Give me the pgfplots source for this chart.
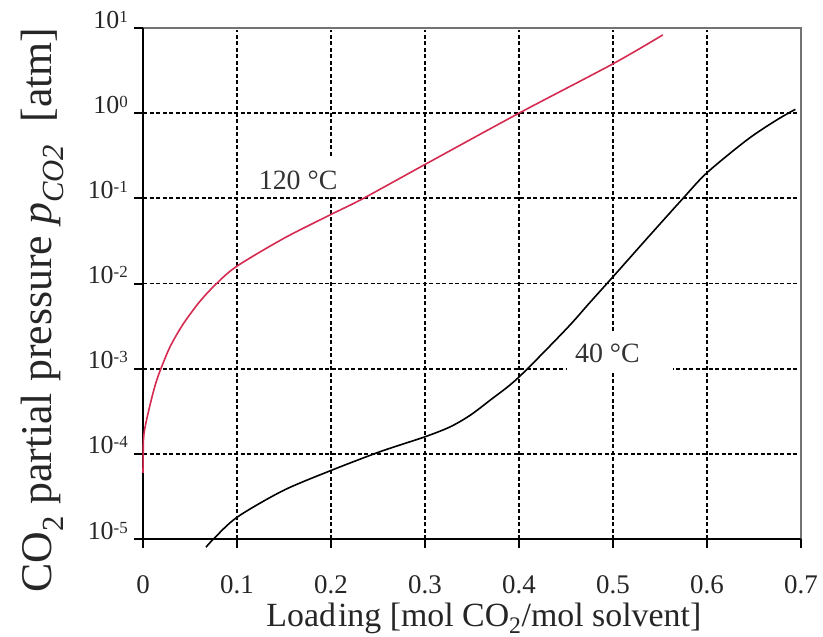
\documentclass[border=0pt]{standalone}
\usepackage{pgfplots}
\pgfplotsset{compat=1.18}
\usepackage{fontspec}
\setmainfont{Liberation Serif}
\definecolor{redline}{RGB}{214,43,80}
\newcommand{\ex}[1]{10\raisebox{6bp}{\fontsize{17}{17}\selectfont #1}}
\begin{document}
\begin{tikzpicture}
\begin{axis}[
  scale only axis, width=658bp, height=511bp,
  xmin=0, xmax=0.7, ymode=log, ymin=1e-5, ymax=10,
  clip=false,
  axis line style={draw=none},
  xtick={0,0.1,0.2,0.3,0.4,0.5,0.6,0.7},
  xticklabels={0,0.1,0.2,0.3,0.4,0.5,0.6,0.7},
  ytick={1e-5,1e-4,1e-3,1e-2,1e-1,1,10},
  yticklabels={\ex{-5},\ex{-4},\ex{-3},\ex{-2},\ex{-1},\ex{0},\ex{1}},
  minor ytick={}, yminorticks=false,
  xtick pos=bottom, ytick pos=left, tick align=outside,
  major tick length=9bp,
  tick style={black, line width=2bp},
  xticklabel style={font=\fontsize{27}{27}\selectfont, anchor=base, inner sep=0pt, yshift=-45bp, text=black!85},
  yticklabel style={font=\fontsize{26}{26}\selectfont, anchor=base east, inner sep=0pt, xshift=-6bp, text=black!85},
  grid=major,
  major grid style={black, line width=1.8bp, dash pattern=on 4bp off 2.5bp},
  xlabel={Load\hspace{2bp}ing [mol CO\textsubscript{2}/mol solvent]},
  xlabel style={font=\fontsize{34}{34}\selectfont, at={(axis description cs:0.518,-0.1705)}, anchor=base, text=black!85},
  ylabel={CO\textsubscript{2} partial pressure \textit{p}\textsubscript{\textit{CO2}}\ \ [atm]},
  ylabel style={font=\fontsize{44}{44}\selectfont, at={(axis description cs:-0.1383,0.448)}, anchor=base, rotate=0, text=black!85},
]
\coordinate (sw) at (rel axis cs:0,0);
\coordinate (ne) at (rel axis cs:1,1);
% frame
\draw[white, line width=3.5bp] (rel axis cs:0,1) -- (rel axis cs:1,1) -- (rel axis cs:1,0);
\draw[black!55, line width=1.6bp] (rel axis cs:0,1) -- (rel axis cs:1,1) -- (rel axis cs:1,0);
\draw[black, line width=2.2bp] (rel axis cs:0,1) -- (rel axis cs:0,0) -- (rel axis cs:1,0);
% label boxes
\node[fill=white, inner sep=0pt, minimum width=113bp, minimum height=40bp] at (axis cs:0.1707,0.1816) {};
\node[fill=white, inner sep=0pt, minimum width=106bp, minimum height=40bp] at (axis cs:0.5074,1.57e-3) {};
\node[anchor=base, inner sep=0pt, font=\fontsize{28}{28}\selectfont, text=black!80] at (axis cs:0.165,0.1253) {120 °C};
\node[anchor=base, inner sep=0pt, font=\fontsize{28}{28}\selectfont, text=black!80] at (axis cs:0.4941,1.197e-3) {40 °C};
% 120 C
\addplot[redline, line width=1.6bp, smooth] coordinates {
(0,5.96e-5) (0.0002,9.7e-5) (0.0005,1.47e-4) (0.0021,2.04e-4) (0.00745,3.74e-4)
(0.01277,6.3e-4) (0.01809,9.4e-4) (0.02872,1.8e-3) (0.04255,3.32e-3) (0.06064,6.19e-3)
(0.07872,1.01e-2) (0.1,1.6e-2) (0.15,3.4e-2) (0.2,6.47e-2)
(0.233,0.098) (0.3,0.25) (0.4,1.0) (0.5,3.8) (0.553,8.3)
};
% 40 C
\addplot[black, line width=1.6bp, smooth] coordinates {
(0.067,8e-6) (0.075,1e-5) (0.1,1.8e-5) (0.149,3.7e-5) (0.2,6.38e-5)
(0.249,1.03e-4) (0.2734,1.27e-4) (0.301,1.6e-4) (0.3266,2.07e-4) (0.3479,2.83e-4)
(0.3691,4.25e-4) (0.3989,7.78e-4) (0.45,2.9e-3) (0.4755,6.0e-3)
(0.5,1.2e-2) (0.5372,3.48e-2) (0.5745,0.1) (0.6,0.2) (0.643,0.49)
(0.674,0.83) (0.694,1.11)
};
\end{axis}
\pgfresetboundingbox
\useasboundingbox ([shift={(-143bp,-97bp)}]sw) rectangle ([shift={(22bp,28bp)}]ne);
\end{tikzpicture}
\end{document}
